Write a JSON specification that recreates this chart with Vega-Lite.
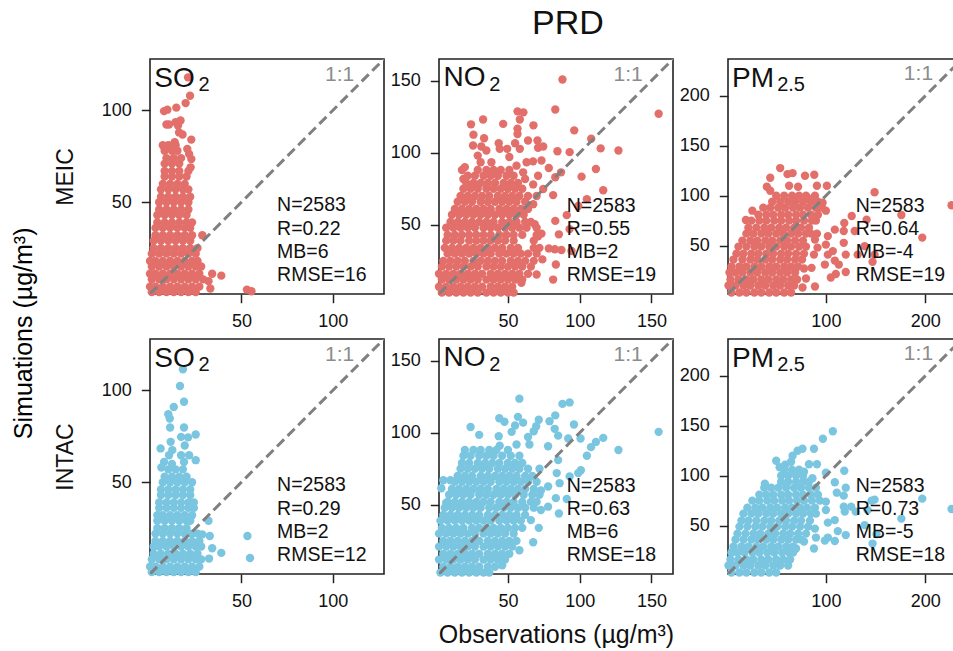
{"$schema":"https://vega.github.io/schema/vega-lite/v6.json","background":"white","padding":{"left":12,"top":6,"right":0,"bottom":0},"title":{"text":"Simuations (µg/m³)","orient":"left","anchor":"middle","fontSize":25,"fontWeight":"normal","font":"Liberation Sans","color":"black","offset":16,"dx":-6},"config":{"view":{"stroke":"#222222","strokeWidth":1.6},"font":"Liberation Sans","axis":{"grid":false,"domain":false,"tickSize":8.7,"tickWidth":1.5,"tickColor":"#222222","labelFont":"Liberation Sans","labelFontSize":18,"labelColor":"#111111","labelPadding":10,"titleFont":"Liberation Sans","titleFontWeight":"normal","titleColor":"#111111"}},"datasets":{"so2m":[{"x":20.8,"y":118},{"x":21.9,"y":108},{"x":19.5,"y":104},{"x":14.4,"y":101.5},{"x":9.5,"y":100.4},{"x":7.7,"y":99.6},{"x":16.7,"y":94.5},{"x":14,"y":93.6},{"x":9,"y":92.3},{"x":10.4,"y":92.3},{"x":15.3,"y":91.8},{"x":15.9,"y":88},{"x":17.8,"y":86.9},{"x":22.6,"y":84.1},{"x":13.5,"y":82.7},{"x":10.4,"y":80.8},{"x":20.4,"y":79},{"x":21.4,"y":76.3},{"x":22.6,"y":73.5},{"x":22.2,"y":69},{"x":34,"y":11},{"x":32,"y":7},{"x":33,"y":3},{"x":39,"y":10},{"x":28.6,"y":32},{"x":53,"y":2.4},{"x":55.5,"y":1.5},{"x":1,"y":1},{"x":5,"y":1},{"x":9,"y":1},{"x":13,"y":1},{"x":17,"y":1},{"x":21,"y":1},{"x":25,"y":1},{"x":0,"y":4},{"x":3,"y":4},{"x":7,"y":4},{"x":11,"y":4},{"x":15,"y":4},{"x":19,"y":4},{"x":23,"y":4},{"x":27,"y":4},{"x":1,"y":8},{"x":5,"y":8},{"x":9,"y":8},{"x":13,"y":8},{"x":17,"y":8},{"x":21,"y":8},{"x":25,"y":8},{"x":29,"y":8},{"x":0,"y":11},{"x":3,"y":11},{"x":7,"y":11},{"x":11,"y":11},{"x":15,"y":11},{"x":19,"y":11},{"x":23,"y":11},{"x":27,"y":11},{"x":1,"y":15},{"x":5,"y":15},{"x":9,"y":15},{"x":13,"y":15},{"x":17,"y":15},{"x":21,"y":15},{"x":25,"y":15},{"x":28,"y":15},{"x":0,"y":18},{"x":3,"y":18},{"x":7,"y":18},{"x":11,"y":18},{"x":15,"y":18},{"x":19,"y":18},{"x":23,"y":18},{"x":26,"y":18},{"x":1,"y":22},{"x":5,"y":22},{"x":9,"y":22},{"x":13,"y":22},{"x":17,"y":22},{"x":21,"y":22},{"x":25,"y":22},{"x":2,"y":25},{"x":6,"y":25},{"x":10,"y":25},{"x":14,"y":25},{"x":18,"y":25},{"x":22,"y":25},{"x":26,"y":25},{"x":2,"y":29},{"x":6,"y":29},{"x":10,"y":29},{"x":14,"y":29},{"x":18,"y":29},{"x":22,"y":29},{"x":3,"y":32},{"x":7,"y":32},{"x":11,"y":32},{"x":15,"y":32},{"x":19,"y":32},{"x":23,"y":32},{"x":3,"y":36},{"x":7,"y":36},{"x":11,"y":36},{"x":15,"y":36},{"x":19,"y":36},{"x":22,"y":36},{"x":4,"y":39},{"x":8,"y":39},{"x":12,"y":39},{"x":16,"y":39},{"x":20,"y":39},{"x":23,"y":39},{"x":4,"y":43},{"x":8,"y":43},{"x":12,"y":43},{"x":16,"y":43},{"x":20,"y":43},{"x":5,"y":46},{"x":9,"y":46},{"x":13,"y":46},{"x":17,"y":46},{"x":21,"y":46},{"x":5,"y":50},{"x":9,"y":50},{"x":13,"y":50},{"x":17,"y":50},{"x":21,"y":50},{"x":6,"y":53},{"x":10,"y":53},{"x":14,"y":53},{"x":18,"y":53},{"x":22,"y":53},{"x":6,"y":57},{"x":10,"y":57},{"x":14,"y":57},{"x":18,"y":57},{"x":21,"y":57},{"x":7,"y":60},{"x":11,"y":60},{"x":15,"y":60},{"x":19,"y":60},{"x":8,"y":64},{"x":12,"y":64},{"x":16,"y":64},{"x":20,"y":64},{"x":8,"y":67},{"x":12,"y":67},{"x":16,"y":67},{"x":21,"y":67},{"x":8,"y":71},{"x":12,"y":71},{"x":16,"y":71},{"x":9,"y":74},{"x":13,"y":74},{"x":17,"y":74},{"x":8,"y":78},{"x":12,"y":78},{"x":15,"y":78},{"x":7,"y":81},{"x":10,"y":81},{"x":14,"y":81}],"so2i":[{"x":18,"y":111.5},{"x":16.4,"y":102.4},{"x":18.6,"y":93.8},{"x":13,"y":91},{"x":10,"y":87},{"x":10.8,"y":84.7},{"x":11,"y":79.8},{"x":18.6,"y":79.8},{"x":25,"y":76},{"x":17,"y":74.7},{"x":20.8,"y":74.4},{"x":19,"y":70},{"x":11.3,"y":72},{"x":5.8,"y":68.4},{"x":12.2,"y":67.5},{"x":10.4,"y":64.7},{"x":21.4,"y":64.7},{"x":17,"y":64.7},{"x":25,"y":62},{"x":18.6,"y":61},{"x":7.7,"y":61},{"x":6.2,"y":58},{"x":12,"y":60},{"x":32,"y":29},{"x":28.6,"y":21.6},{"x":32.7,"y":20.7},{"x":53.3,"y":20.7},{"x":54.7,"y":8.7},{"x":34,"y":14},{"x":39,"y":11.5},{"x":32.3,"y":8.4},{"x":1,"y":1},{"x":5,"y":1},{"x":9,"y":1},{"x":13,"y":1},{"x":17,"y":1},{"x":21,"y":1},{"x":25,"y":1},{"x":0,"y":4},{"x":3,"y":4},{"x":7,"y":4},{"x":11,"y":4},{"x":15,"y":4},{"x":19,"y":4},{"x":23,"y":4},{"x":27,"y":4},{"x":1,"y":8},{"x":5,"y":8},{"x":9,"y":8},{"x":13,"y":8},{"x":17,"y":8},{"x":21,"y":8},{"x":25,"y":8},{"x":28,"y":8},{"x":2,"y":11},{"x":6,"y":11},{"x":10,"y":11},{"x":14,"y":11},{"x":18,"y":11},{"x":22,"y":11},{"x":26,"y":11},{"x":2,"y":15},{"x":5,"y":15},{"x":9,"y":15},{"x":13,"y":15},{"x":17,"y":15},{"x":21,"y":15},{"x":25,"y":15},{"x":28,"y":15},{"x":3,"y":18},{"x":7,"y":18},{"x":11,"y":18},{"x":15,"y":18},{"x":19,"y":18},{"x":23,"y":18},{"x":27,"y":18},{"x":3,"y":22},{"x":7,"y":22},{"x":11,"y":22},{"x":15,"y":22},{"x":19,"y":22},{"x":23,"y":22},{"x":26,"y":22},{"x":4,"y":25},{"x":8,"y":25},{"x":12,"y":25},{"x":16,"y":25},{"x":20,"y":25},{"x":4,"y":29},{"x":8,"y":29},{"x":12,"y":29},{"x":16,"y":29},{"x":20,"y":29},{"x":22,"y":29},{"x":4,"y":32},{"x":7,"y":32},{"x":11,"y":32},{"x":15,"y":32},{"x":19,"y":32},{"x":23,"y":32},{"x":5,"y":36},{"x":9,"y":36},{"x":13,"y":36},{"x":17,"y":36},{"x":21,"y":36},{"x":24,"y":36},{"x":5,"y":39},{"x":9,"y":39},{"x":13,"y":39},{"x":17,"y":39},{"x":21,"y":39},{"x":24,"y":39},{"x":6,"y":43},{"x":10,"y":43},{"x":14,"y":43},{"x":18,"y":43},{"x":22,"y":43},{"x":6,"y":46},{"x":10,"y":46},{"x":14,"y":46},{"x":18,"y":46},{"x":22,"y":46},{"x":7,"y":50},{"x":11,"y":50},{"x":15,"y":50},{"x":19,"y":50},{"x":23,"y":50},{"x":8,"y":53},{"x":12,"y":53},{"x":16,"y":53},{"x":20,"y":53},{"x":10,"y":57},{"x":14,"y":57},{"x":18,"y":57}],"no2m":[{"x":88,"y":150.8},{"x":83,"y":130},{"x":155,"y":127},{"x":56.7,"y":128.7},{"x":60.8,"y":128},{"x":58.3,"y":123},{"x":32.7,"y":123},{"x":24.3,"y":119.7},{"x":46.7,"y":120},{"x":67.8,"y":119},{"x":96.2,"y":115.5},{"x":56.7,"y":116.7},{"x":56.7,"y":113},{"x":26,"y":112.5},{"x":33.4,"y":110},{"x":108,"y":109.7},{"x":64,"y":108.5},{"x":70.6,"y":108.5},{"x":55,"y":106.6},{"x":43.6,"y":106.6},{"x":25.7,"y":105},{"x":31.5,"y":104.3},{"x":74.6,"y":104.3},{"x":71,"y":103.4},{"x":114.6,"y":103},{"x":127,"y":101.5},{"x":84.5,"y":101},{"x":93,"y":100.4},{"x":58.3,"y":102.7},{"x":44.3,"y":102.7},{"x":35,"y":101.5},{"x":49.5,"y":102.7},{"x":29,"y":98},{"x":51,"y":97},{"x":38.5,"y":93.4},{"x":73.4,"y":94.6},{"x":67.5,"y":94},{"x":63,"y":93.4},{"x":31,"y":93.4},{"x":20,"y":90},{"x":18,"y":88},{"x":78.5,"y":89.4},{"x":111.3,"y":88.7},{"x":56,"y":91},{"x":87,"y":86.4},{"x":60.6,"y":86.4},{"x":71,"y":84},{"x":83,"y":83},{"x":101.3,"y":83.4},{"x":62,"y":81.8},{"x":19,"y":81.8},{"x":116.4,"y":74},{"x":81.5,"y":70.6},{"x":67.6,"y":78},{"x":74.6,"y":74.8},{"x":105,"y":67.8},{"x":67.6,"y":64.3},{"x":99,"y":63},{"x":91,"y":56.7},{"x":83,"y":52.7},{"x":93,"y":47},{"x":85.5,"y":43.4},{"x":78.5,"y":33.6},{"x":82.7,"y":33},{"x":87.3,"y":32.5},{"x":94.3,"y":31.8},{"x":74,"y":26},{"x":83.4,"y":22.5},{"x":81.5,"y":12},{"x":70,"y":15.5},{"x":59.4,"y":9.7},{"x":71,"y":42},{"x":68.7,"y":50.4},{"x":73.4,"y":43.9},{"x":4,"y":3},{"x":9,"y":3},{"x":14,"y":3},{"x":19,"y":3},{"x":24,"y":3},{"x":29,"y":3},{"x":35,"y":3},{"x":40,"y":3},{"x":45,"y":3},{"x":50,"y":3},{"x":54,"y":3},{"x":2,"y":7},{"x":7,"y":7},{"x":12,"y":7},{"x":17,"y":7},{"x":22,"y":7},{"x":27,"y":7},{"x":32,"y":7},{"x":38,"y":7},{"x":43,"y":7},{"x":48,"y":7},{"x":53,"y":7},{"x":4,"y":12},{"x":9,"y":12},{"x":14,"y":12},{"x":19,"y":12},{"x":24,"y":12},{"x":29,"y":12},{"x":35,"y":12},{"x":40,"y":12},{"x":45,"y":12},{"x":50,"y":12},{"x":55,"y":12},{"x":60,"y":12},{"x":2,"y":16},{"x":7,"y":16},{"x":12,"y":16},{"x":17,"y":16},{"x":22,"y":16},{"x":27,"y":16},{"x":32,"y":16},{"x":38,"y":16},{"x":43,"y":16},{"x":48,"y":16},{"x":53,"y":16},{"x":58,"y":16},{"x":64,"y":16},{"x":4,"y":21},{"x":9,"y":21},{"x":14,"y":21},{"x":19,"y":21},{"x":24,"y":21},{"x":29,"y":21},{"x":35,"y":21},{"x":40,"y":21},{"x":45,"y":21},{"x":50,"y":21},{"x":55,"y":21},{"x":60,"y":21},{"x":66,"y":21},{"x":5,"y":25},{"x":10,"y":25},{"x":15,"y":25},{"x":20,"y":25},{"x":26,"y":25},{"x":31,"y":25},{"x":36,"y":25},{"x":41,"y":25},{"x":46,"y":25},{"x":52,"y":25},{"x":57,"y":25},{"x":62,"y":25},{"x":68,"y":25},{"x":8,"y":30},{"x":13,"y":30},{"x":18,"y":30},{"x":23,"y":30},{"x":28,"y":30},{"x":33,"y":30},{"x":38,"y":30},{"x":44,"y":30},{"x":49,"y":30},{"x":54,"y":30},{"x":59,"y":30},{"x":64,"y":30},{"x":70,"y":30},{"x":6,"y":34},{"x":11,"y":34},{"x":16,"y":34},{"x":21,"y":34},{"x":26,"y":34},{"x":31,"y":34},{"x":36,"y":34},{"x":41,"y":34},{"x":46,"y":34},{"x":52,"y":34},{"x":57,"y":34},{"x":68,"y":34},{"x":72,"y":34},{"x":7,"y":39},{"x":12,"y":39},{"x":17,"y":39},{"x":23,"y":39},{"x":28,"y":39},{"x":33,"y":39},{"x":38,"y":39},{"x":43,"y":39},{"x":48,"y":39},{"x":54,"y":39},{"x":68,"y":39},{"x":8,"y":43},{"x":13,"y":43},{"x":18,"y":43},{"x":23,"y":43},{"x":28,"y":43},{"x":33,"y":43},{"x":38,"y":43},{"x":44,"y":43},{"x":49,"y":43},{"x":54,"y":43},{"x":60,"y":43},{"x":70,"y":43},{"x":7,"y":48},{"x":12,"y":48},{"x":17,"y":48},{"x":22,"y":48},{"x":27,"y":48},{"x":33,"y":48},{"x":38,"y":48},{"x":43,"y":48},{"x":48,"y":48},{"x":53,"y":48},{"x":58,"y":48},{"x":63,"y":48},{"x":70,"y":48},{"x":10,"y":52},{"x":15,"y":52},{"x":20,"y":52},{"x":25,"y":52},{"x":30,"y":52},{"x":35,"y":52},{"x":40,"y":52},{"x":46,"y":52},{"x":51,"y":52},{"x":56,"y":52},{"x":62,"y":52},{"x":66,"y":52},{"x":11,"y":57},{"x":16,"y":57},{"x":21,"y":57},{"x":26,"y":57},{"x":31,"y":57},{"x":36,"y":57},{"x":41,"y":57},{"x":46,"y":57},{"x":51,"y":57},{"x":56,"y":57},{"x":61,"y":57},{"x":13,"y":61},{"x":18,"y":61},{"x":23,"y":61},{"x":28,"y":61},{"x":33,"y":61},{"x":38,"y":61},{"x":44,"y":61},{"x":49,"y":61},{"x":54,"y":61},{"x":59,"y":61},{"x":64,"y":61},{"x":15,"y":66},{"x":20,"y":66},{"x":25,"y":66},{"x":31,"y":66},{"x":36,"y":66},{"x":41,"y":66},{"x":46,"y":66},{"x":51,"y":66},{"x":56,"y":66},{"x":62,"y":66},{"x":17,"y":70},{"x":22,"y":70},{"x":27,"y":70},{"x":32,"y":70},{"x":37,"y":70},{"x":43,"y":70},{"x":48,"y":70},{"x":53,"y":70},{"x":58,"y":70},{"x":64,"y":70},{"x":70,"y":70},{"x":19,"y":75},{"x":24,"y":75},{"x":29,"y":75},{"x":35,"y":75},{"x":40,"y":75},{"x":45,"y":75},{"x":50,"y":75},{"x":55,"y":75},{"x":60,"y":75},{"x":21,"y":79},{"x":26,"y":79},{"x":31,"y":79},{"x":36,"y":79},{"x":41,"y":79},{"x":47,"y":79},{"x":52,"y":79},{"x":57,"y":79},{"x":22,"y":84},{"x":27,"y":84},{"x":33,"y":84},{"x":38,"y":84},{"x":43,"y":84},{"x":49,"y":84},{"x":54,"y":84},{"x":29,"y":88},{"x":35,"y":88},{"x":40,"y":88},{"x":45,"y":88},{"x":51,"y":88}],"no2i":[{"x":155,"y":100.6},{"x":58,"y":123.6},{"x":93,"y":121},{"x":88,"y":120},{"x":83,"y":112},{"x":57,"y":111},{"x":71.5,"y":109},{"x":44,"y":110},{"x":47.6,"y":107.6},{"x":79,"y":108},{"x":96,"y":105.7},{"x":24,"y":104},{"x":60.6,"y":107},{"x":55,"y":105},{"x":69.7,"y":104.5},{"x":82.6,"y":102.7},{"x":85,"y":98},{"x":52.6,"y":100.6},{"x":68,"y":101},{"x":43.6,"y":97.6},{"x":30,"y":98.5},{"x":64,"y":97},{"x":92,"y":96},{"x":100.6,"y":96},{"x":116.4,"y":96.4},{"x":111.3,"y":93.6},{"x":107.9,"y":90},{"x":127,"y":88},{"x":105,"y":84},{"x":65,"y":91.8},{"x":78,"y":90.6},{"x":44.3,"y":91},{"x":56,"y":91.8},{"x":85,"y":81},{"x":100.8,"y":74},{"x":99,"y":72},{"x":93,"y":69.7},{"x":84,"y":72},{"x":86,"y":65},{"x":83.4,"y":54.6},{"x":91,"y":54},{"x":78,"y":48.7},{"x":85.5,"y":44},{"x":71.5,"y":34},{"x":67.6,"y":24},{"x":58,"y":18.5},{"x":46,"y":8},{"x":5,"y":67},{"x":10,"y":67},{"x":3.6,"y":61.5},{"x":7,"y":51.5},{"x":73,"y":46.4},{"x":66,"y":39.4},{"x":78,"y":62.7},{"x":73,"y":60},{"x":3,"y":3},{"x":8,"y":3},{"x":13,"y":3},{"x":18,"y":3},{"x":23,"y":3},{"x":28,"y":3},{"x":33,"y":3},{"x":37,"y":3},{"x":5,"y":7},{"x":10,"y":7},{"x":15,"y":7},{"x":20,"y":7},{"x":25,"y":7},{"x":30,"y":7},{"x":36,"y":7},{"x":41,"y":7},{"x":2,"y":12},{"x":7,"y":12},{"x":12,"y":12},{"x":17,"y":12},{"x":22,"y":12},{"x":27,"y":12},{"x":33,"y":12},{"x":38,"y":12},{"x":43,"y":12},{"x":48,"y":12},{"x":5,"y":16},{"x":10,"y":16},{"x":15,"y":16},{"x":20,"y":16},{"x":25,"y":16},{"x":30,"y":16},{"x":36,"y":16},{"x":41,"y":16},{"x":46,"y":16},{"x":51,"y":16},{"x":2,"y":21},{"x":7,"y":21},{"x":12,"y":21},{"x":17,"y":21},{"x":22,"y":21},{"x":27,"y":21},{"x":33,"y":21},{"x":38,"y":21},{"x":43,"y":21},{"x":48,"y":21},{"x":53,"y":21},{"x":5,"y":25},{"x":10,"y":25},{"x":15,"y":25},{"x":20,"y":25},{"x":25,"y":25},{"x":30,"y":25},{"x":36,"y":25},{"x":41,"y":25},{"x":46,"y":25},{"x":51,"y":25},{"x":56,"y":25},{"x":2,"y":30},{"x":7,"y":30},{"x":12,"y":30},{"x":17,"y":30},{"x":22,"y":30},{"x":27,"y":30},{"x":33,"y":30},{"x":38,"y":30},{"x":43,"y":30},{"x":48,"y":30},{"x":54,"y":30},{"x":4,"y":34},{"x":9,"y":34},{"x":14,"y":34},{"x":19,"y":34},{"x":25,"y":34},{"x":30,"y":34},{"x":35,"y":34},{"x":40,"y":34},{"x":45,"y":34},{"x":50,"y":34},{"x":55,"y":34},{"x":60,"y":34},{"x":3,"y":39},{"x":8,"y":39},{"x":13,"y":39},{"x":18,"y":39},{"x":23,"y":39},{"x":28,"y":39},{"x":33,"y":39},{"x":38,"y":39},{"x":44,"y":39},{"x":49,"y":39},{"x":54,"y":39},{"x":59,"y":39},{"x":5,"y":43},{"x":10,"y":43},{"x":15,"y":43},{"x":20,"y":43},{"x":25,"y":43},{"x":30,"y":43},{"x":36,"y":43},{"x":41,"y":43},{"x":46,"y":43},{"x":51,"y":43},{"x":56,"y":43},{"x":62,"y":43},{"x":6,"y":48},{"x":11,"y":48},{"x":16,"y":48},{"x":21,"y":48},{"x":26,"y":48},{"x":31,"y":48},{"x":37,"y":48},{"x":42,"y":48},{"x":47,"y":48},{"x":52,"y":48},{"x":57,"y":48},{"x":62,"y":48},{"x":68,"y":48},{"x":8,"y":52},{"x":13,"y":52},{"x":18,"y":52},{"x":23,"y":52},{"x":28,"y":52},{"x":33,"y":52},{"x":38,"y":52},{"x":44,"y":52},{"x":49,"y":52},{"x":54,"y":52},{"x":60,"y":52},{"x":66,"y":52},{"x":70,"y":52},{"x":9,"y":57},{"x":14,"y":57},{"x":19,"y":57},{"x":24,"y":57},{"x":30,"y":57},{"x":35,"y":57},{"x":40,"y":57},{"x":45,"y":57},{"x":50,"y":57},{"x":55,"y":57},{"x":61,"y":57},{"x":67,"y":57},{"x":72,"y":57},{"x":11,"y":61},{"x":16,"y":61},{"x":21,"y":61},{"x":26,"y":61},{"x":31,"y":61},{"x":36,"y":61},{"x":42,"y":61},{"x":47,"y":61},{"x":52,"y":61},{"x":57,"y":61},{"x":62,"y":61},{"x":68,"y":61},{"x":13,"y":66},{"x":18,"y":66},{"x":23,"y":66},{"x":28,"y":66},{"x":33,"y":66},{"x":38,"y":66},{"x":44,"y":66},{"x":49,"y":66},{"x":54,"y":66},{"x":59,"y":66},{"x":64,"y":66},{"x":70,"y":66},{"x":15,"y":70},{"x":20,"y":70},{"x":25,"y":70},{"x":31,"y":70},{"x":36,"y":70},{"x":41,"y":70},{"x":46,"y":70},{"x":51,"y":70},{"x":56,"y":70},{"x":62,"y":70},{"x":67,"y":70},{"x":17,"y":75},{"x":22,"y":75},{"x":27,"y":75},{"x":32,"y":75},{"x":37,"y":75},{"x":43,"y":75},{"x":48,"y":75},{"x":53,"y":75},{"x":58,"y":75},{"x":64,"y":75},{"x":72,"y":75},{"x":18,"y":79},{"x":23,"y":79},{"x":29,"y":79},{"x":34,"y":79},{"x":39,"y":79},{"x":44,"y":79},{"x":50,"y":79},{"x":55,"y":79},{"x":60,"y":79},{"x":19,"y":84},{"x":24,"y":84},{"x":30,"y":84},{"x":35,"y":84},{"x":40,"y":84},{"x":46,"y":84},{"x":52,"y":84},{"x":58,"y":84},{"x":20,"y":88},{"x":26,"y":88},{"x":31,"y":88},{"x":37,"y":88},{"x":42,"y":88},{"x":50,"y":88}],"pmm":[{"x":54,"y":127.7},{"x":44,"y":118},{"x":61.4,"y":121.6},{"x":66.5,"y":122.6},{"x":79,"y":120},{"x":88.3,"y":121},{"x":91,"y":110},{"x":101,"y":110},{"x":63,"y":110},{"x":72,"y":109},{"x":40.6,"y":109},{"x":44,"y":105},{"x":149,"y":103.5},{"x":226.5,"y":90.4},{"x":89,"y":100},{"x":81.5,"y":98},{"x":96.7,"y":93},{"x":100,"y":85},{"x":26,"y":85},{"x":19.5,"y":75.7},{"x":176,"y":80.7},{"x":126,"y":79.7},{"x":141,"y":76},{"x":118.5,"y":72.6},{"x":197,"y":58},{"x":109,"y":66},{"x":118,"y":64.6},{"x":129,"y":64.6},{"x":139,"y":49.5},{"x":132,"y":41},{"x":147,"y":33.7},{"x":149,"y":41},{"x":120,"y":41},{"x":118,"y":52.8},{"x":102,"y":59.5},{"x":100,"y":51},{"x":107,"y":44.5},{"x":102,"y":41},{"x":91,"y":62},{"x":89,"y":56},{"x":91.6,"y":48},{"x":88,"y":41},{"x":109,"y":35},{"x":113,"y":31},{"x":99,"y":31},{"x":120,"y":23.6},{"x":110,"y":21.6},{"x":105,"y":18},{"x":85.6,"y":27.7},{"x":78,"y":27},{"x":80,"y":17},{"x":89,"y":9},{"x":76.5,"y":8},{"x":5,"y":3},{"x":13,"y":3},{"x":20,"y":3},{"x":28,"y":3},{"x":35,"y":3},{"x":43,"y":3},{"x":50,"y":3},{"x":58,"y":3},{"x":65,"y":3},{"x":2,"y":10},{"x":9,"y":10},{"x":17,"y":10},{"x":24,"y":10},{"x":32,"y":10},{"x":39,"y":10},{"x":47,"y":10},{"x":54,"y":10},{"x":62,"y":10},{"x":68,"y":10},{"x":4,"y":16},{"x":12,"y":16},{"x":20,"y":16},{"x":27,"y":16},{"x":35,"y":16},{"x":42,"y":16},{"x":50,"y":16},{"x":57,"y":16},{"x":65,"y":16},{"x":71,"y":16},{"x":3,"y":23},{"x":9,"y":23},{"x":16,"y":23},{"x":24,"y":23},{"x":31,"y":23},{"x":39,"y":23},{"x":46,"y":23},{"x":54,"y":23},{"x":61,"y":23},{"x":69,"y":23},{"x":5,"y":29},{"x":13,"y":29},{"x":20,"y":29},{"x":28,"y":29},{"x":35,"y":29},{"x":43,"y":29},{"x":50,"y":29},{"x":58,"y":29},{"x":65,"y":29},{"x":72,"y":29},{"x":7,"y":36},{"x":16,"y":36},{"x":24,"y":36},{"x":31,"y":36},{"x":39,"y":36},{"x":46,"y":36},{"x":54,"y":36},{"x":61,"y":36},{"x":69,"y":36},{"x":76,"y":36},{"x":10,"y":42},{"x":17,"y":42},{"x":25,"y":42},{"x":32,"y":42},{"x":40,"y":42},{"x":47,"y":42},{"x":55,"y":42},{"x":62,"y":42},{"x":70,"y":42},{"x":78,"y":42},{"x":12,"y":49},{"x":20,"y":49},{"x":28,"y":49},{"x":35,"y":49},{"x":43,"y":49},{"x":50,"y":49},{"x":58,"y":49},{"x":65,"y":49},{"x":73,"y":49},{"x":80,"y":49},{"x":16,"y":55},{"x":24,"y":55},{"x":31,"y":55},{"x":39,"y":55},{"x":46,"y":55},{"x":54,"y":55},{"x":61,"y":55},{"x":69,"y":55},{"x":77,"y":55},{"x":20,"y":62},{"x":27,"y":62},{"x":35,"y":62},{"x":42,"y":62},{"x":50,"y":62},{"x":57,"y":62},{"x":65,"y":62},{"x":72,"y":62},{"x":80,"y":62},{"x":85,"y":62},{"x":22,"y":68},{"x":30,"y":68},{"x":38,"y":68},{"x":45,"y":68},{"x":53,"y":68},{"x":60,"y":68},{"x":68,"y":68},{"x":75,"y":68},{"x":83,"y":68},{"x":25,"y":75},{"x":33,"y":75},{"x":40,"y":75},{"x":48,"y":75},{"x":55,"y":75},{"x":63,"y":75},{"x":70,"y":75},{"x":78,"y":75},{"x":86,"y":75},{"x":90,"y":75},{"x":32,"y":81},{"x":40,"y":81},{"x":47,"y":81},{"x":55,"y":81},{"x":62,"y":81},{"x":70,"y":81},{"x":77,"y":81},{"x":85,"y":81},{"x":92,"y":81},{"x":37,"y":88},{"x":44,"y":88},{"x":52,"y":88},{"x":59,"y":88},{"x":67,"y":88},{"x":74,"y":88},{"x":82,"y":88},{"x":90,"y":88},{"x":96,"y":88},{"x":46,"y":94},{"x":54,"y":94},{"x":62,"y":94},{"x":69,"y":94},{"x":77,"y":94},{"x":85,"y":94},{"x":92,"y":94},{"x":50,"y":100},{"x":58,"y":100},{"x":66,"y":100},{"x":73,"y":100},{"x":80,"y":100}],"pmi":[{"x":107,"y":144.5},{"x":97,"y":137},{"x":88,"y":127},{"x":76.5,"y":127},{"x":71.5,"y":125},{"x":66.5,"y":120},{"x":50,"y":115},{"x":65,"y":114},{"x":83,"y":111.5},{"x":91,"y":111.5},{"x":59,"y":111},{"x":53.5,"y":108.5},{"x":118.5,"y":105},{"x":100,"y":103},{"x":78,"y":104},{"x":86.5,"y":97.5},{"x":109,"y":93.5},{"x":120,"y":88},{"x":38.6,"y":92},{"x":111,"y":83},{"x":118,"y":80},{"x":197,"y":77},{"x":149,"y":76},{"x":146,"y":75},{"x":226.5,"y":66.6},{"x":118,"y":69},{"x":125.5,"y":69},{"x":119,"y":64},{"x":130,"y":64},{"x":142,"y":65.5},{"x":176,"y":57},{"x":139,"y":50.5},{"x":109,"y":55.5},{"x":102,"y":53},{"x":112,"y":44.5},{"x":120,"y":40.5},{"x":151,"y":41.4},{"x":147,"y":32},{"x":109,"y":34.6},{"x":102,"y":38},{"x":99,"y":35},{"x":90,"y":38},{"x":89,"y":47},{"x":88,"y":27},{"x":78,"y":34},{"x":70,"y":27},{"x":100,"y":65.6},{"x":100,"y":74},{"x":5,"y":3},{"x":13,"y":3},{"x":20,"y":3},{"x":28,"y":3},{"x":35,"y":3},{"x":43,"y":3},{"x":50,"y":3},{"x":2,"y":10},{"x":9,"y":10},{"x":17,"y":10},{"x":24,"y":10},{"x":32,"y":10},{"x":39,"y":10},{"x":47,"y":10},{"x":54,"y":10},{"x":62,"y":10},{"x":4,"y":16},{"x":12,"y":16},{"x":20,"y":16},{"x":27,"y":16},{"x":35,"y":16},{"x":42,"y":16},{"x":50,"y":16},{"x":57,"y":16},{"x":64,"y":16},{"x":5,"y":23},{"x":11,"y":23},{"x":18,"y":23},{"x":26,"y":23},{"x":33,"y":23},{"x":41,"y":23},{"x":48,"y":23},{"x":56,"y":23},{"x":63,"y":23},{"x":67,"y":23},{"x":7,"y":29},{"x":15,"y":29},{"x":22,"y":29},{"x":30,"y":29},{"x":37,"y":29},{"x":45,"y":29},{"x":52,"y":29},{"x":60,"y":29},{"x":67,"y":29},{"x":9,"y":36},{"x":17,"y":36},{"x":25,"y":36},{"x":32,"y":36},{"x":40,"y":36},{"x":47,"y":36},{"x":55,"y":36},{"x":62,"y":36},{"x":70,"y":36},{"x":75,"y":36},{"x":11,"y":42},{"x":19,"y":42},{"x":27,"y":42},{"x":34,"y":42},{"x":42,"y":42},{"x":49,"y":42},{"x":57,"y":42},{"x":64,"y":42},{"x":72,"y":42},{"x":80,"y":42},{"x":13,"y":49},{"x":21,"y":49},{"x":29,"y":49},{"x":36,"y":49},{"x":44,"y":49},{"x":51,"y":49},{"x":59,"y":49},{"x":66,"y":49},{"x":74,"y":49},{"x":82,"y":49},{"x":15,"y":55},{"x":22,"y":55},{"x":30,"y":55},{"x":38,"y":55},{"x":45,"y":55},{"x":53,"y":55},{"x":60,"y":55},{"x":68,"y":55},{"x":75,"y":55},{"x":84,"y":55},{"x":17,"y":62},{"x":25,"y":62},{"x":32,"y":62},{"x":40,"y":62},{"x":47,"y":62},{"x":55,"y":62},{"x":62,"y":62},{"x":70,"y":62},{"x":77,"y":62},{"x":85,"y":62},{"x":90,"y":62},{"x":21,"y":68},{"x":29,"y":68},{"x":36,"y":68},{"x":44,"y":68},{"x":51,"y":68},{"x":59,"y":68},{"x":66,"y":68},{"x":74,"y":68},{"x":81,"y":68},{"x":89,"y":68},{"x":26,"y":75},{"x":33,"y":75},{"x":41,"y":75},{"x":48,"y":75},{"x":56,"y":75},{"x":63,"y":75},{"x":71,"y":75},{"x":78,"y":75},{"x":86,"y":75},{"x":94,"y":75},{"x":33,"y":81},{"x":40,"y":81},{"x":47,"y":81},{"x":55,"y":81},{"x":62,"y":81},{"x":70,"y":81},{"x":77,"y":81},{"x":85,"y":81},{"x":92,"y":81},{"x":38,"y":88},{"x":45,"y":88},{"x":52,"y":88},{"x":60,"y":88},{"x":68,"y":88},{"x":75,"y":88},{"x":83,"y":88},{"x":90,"y":88},{"x":55,"y":94},{"x":62,"y":94},{"x":70,"y":94},{"x":77,"y":94},{"x":83,"y":94},{"x":55,"y":100},{"x":62,"y":100},{"x":70,"y":100},{"x":77,"y":100},{"x":58,"y":106},{"x":66,"y":106},{"x":73,"y":106}]},"columns":3,"spacing":{"row":45,"column":55},"bounds":"flush","concat":[{"width":234,"height":235,"data":{"name":"so2m"},"layer":[{"encoding":{"x":{"field":"x","type":"quantitative","scale":{"domain":[0,128],"nice":false,"zero":false},"axis":{"values":[50,100],"title":null}},"y":{"field":"y","type":"quantitative","scale":{"domain":[0,128],"nice":false,"zero":false},"axis":{"values":[50,100],"title":"MEIC","titleFontSize":23,"titlePadding":24}}},"layer":[{"mark":{"type":"circle","size":70,"opacity":1,"color":"#e36f6b"}},{"data":{"values":[{"x":0,"y":0},{"x":128,"y":128}]},"mark":{"type":"line","color":"#808080","strokeWidth":3,"strokeDash":[10,5],"clip":true}}]},{"data":{"values":[{"t":"SO"}]},"mark":{"type":"text","align":"left","baseline":"alphabetic","fontSize":28,"color":"#111111"},"encoding":{"x":{"datum":2.3},"y":{"datum":113},"text":{"field":"t"}}},{"data":{"values":[{"t":"2"}]},"mark":{"type":"text","align":"left","baseline":"alphabetic","fontSize":20,"color":"#111111"},"encoding":{"x":{"datum":26.5},"y":{"datum":110.8},"text":{"field":"t"}}},{"data":{"values":[{"t":"1:1"}]},"mark":{"type":"text","align":"left","baseline":"alphabetic","fontSize":21,"color":"#8c8c8c"},"encoding":{"x":{"datum":95.7},"y":{"datum":116},"text":{"field":"t"}}},{"data":{"values":[{}]},"mark":{"type":"text","align":"left","baseline":"alphabetic","fontSize":19.5,"lineHeight":23.2,"color":"#111111","text":["N=2583","R=0.22","MB=6","RMSE=16"]},"encoding":{"x":{"datum":69.5},"y":{"datum":45}}}]},{"width":234,"height":235,"title":{"text":"PRD","fontSize":34,"fontWeight":"normal","font":"Liberation Sans","color":"#111111","dx":12,"offset":18},"data":{"name":"no2m"},"layer":[{"encoding":{"x":{"field":"x","type":"quantitative","scale":{"domain":[2,165],"nice":false,"zero":false},"axis":{"values":[50,100,150],"title":null}},"y":{"field":"y","type":"quantitative","scale":{"domain":[2,165],"nice":false,"zero":false},"axis":{"values":[50,100,150],"title":null}}},"layer":[{"mark":{"type":"circle","size":70,"opacity":1,"color":"#e36f6b"}},{"data":{"values":[{"x":2,"y":2},{"x":165,"y":165}]},"mark":{"type":"line","color":"#808080","strokeWidth":3,"strokeDash":[10,5],"clip":true}}]},{"data":{"values":[{"t":"NO"}]},"mark":{"type":"text","align":"left","baseline":"alphabetic","fontSize":28,"color":"#111111"},"encoding":{"x":{"datum":5.2},"y":{"datum":146},"text":{"field":"t"}}},{"data":{"values":[{"t":"2"}]},"mark":{"type":"text","align":"left","baseline":"alphabetic","fontSize":20,"color":"#111111"},"encoding":{"x":{"datum":37},"y":{"datum":143},"text":{"field":"t"}}},{"data":{"values":[{"t":"1:1"}]},"mark":{"type":"text","align":"left","baseline":"alphabetic","fontSize":21,"color":"#8c8c8c"},"encoding":{"x":{"datum":123.6},"y":{"datum":150},"text":{"field":"t"}}},{"data":{"values":[{}]},"mark":{"type":"text","align":"left","baseline":"alphabetic","fontSize":19.5,"lineHeight":23.2,"color":"#111111","text":["N=2583","R=0.55","MB=2","RMSE=19"]},"encoding":{"x":{"datum":91},"y":{"datum":59}}}]},{"width":234,"height":235,"data":{"name":"pmm"},"layer":[{"encoding":{"x":{"field":"x","type":"quantitative","scale":{"domain":[1.5,237],"nice":false,"zero":false},"axis":{"values":[100,200],"title":null}},"y":{"field":"y","type":"quantitative","scale":{"domain":[1.5,237],"nice":false,"zero":false},"axis":{"values":[50,100,150,200],"title":null}}},"layer":[{"mark":{"type":"circle","size":70,"opacity":1,"color":"#e36f6b"}},{"data":{"values":[{"x":1.5,"y":1.5},{"x":237,"y":237}]},"mark":{"type":"line","color":"#808080","strokeWidth":3,"strokeDash":[10,5],"clip":true}}]},{"data":{"values":[{"t":"PM"}]},"mark":{"type":"text","align":"left","baseline":"alphabetic","fontSize":28,"color":"#111111"},"encoding":{"x":{"datum":5.5},"y":{"datum":209},"text":{"field":"t"}}},{"data":{"values":[{"t":"2.5"}]},"mark":{"type":"text","align":"left","baseline":"alphabetic","fontSize":20,"color":"#111111"},"encoding":{"x":{"datum":51},"y":{"datum":205},"text":{"field":"t"}}},{"data":{"values":[{"t":"1:1"}]},"mark":{"type":"text","align":"left","baseline":"alphabetic","fontSize":21,"color":"#8c8c8c"},"encoding":{"x":{"datum":178.5},"y":{"datum":215.5},"text":{"field":"t"}}},{"data":{"values":[{}]},"mark":{"type":"text","align":"left","baseline":"alphabetic","fontSize":19.5,"lineHeight":23.2,"color":"#111111","text":["N=2583","R=0.64","MB=-4","RMSE=19"]},"encoding":{"x":{"datum":130},"y":{"datum":84}}}]},{"width":234,"height":235,"data":{"name":"so2i"},"layer":[{"encoding":{"x":{"field":"x","type":"quantitative","scale":{"domain":[0,128],"nice":false,"zero":false},"axis":{"values":[50,100],"title":null}},"y":{"field":"y","type":"quantitative","scale":{"domain":[0,128],"nice":false,"zero":false},"axis":{"values":[50,100],"title":"INTAC","titleFontSize":23,"titlePadding":24}}},"layer":[{"mark":{"type":"circle","size":70,"opacity":1,"color":"#7ac6e1"}},{"data":{"values":[{"x":0,"y":0},{"x":128,"y":128}]},"mark":{"type":"line","color":"#808080","strokeWidth":3,"strokeDash":[10,5],"clip":true}}]},{"data":{"values":[{"t":"SO"}]},"mark":{"type":"text","align":"left","baseline":"alphabetic","fontSize":28,"color":"#111111"},"encoding":{"x":{"datum":2.3},"y":{"datum":113},"text":{"field":"t"}}},{"data":{"values":[{"t":"2"}]},"mark":{"type":"text","align":"left","baseline":"alphabetic","fontSize":20,"color":"#111111"},"encoding":{"x":{"datum":26.5},"y":{"datum":110.8},"text":{"field":"t"}}},{"data":{"values":[{"t":"1:1"}]},"mark":{"type":"text","align":"left","baseline":"alphabetic","fontSize":21,"color":"#8c8c8c"},"encoding":{"x":{"datum":95.7},"y":{"datum":116},"text":{"field":"t"}}},{"data":{"values":[{}]},"mark":{"type":"text","align":"left","baseline":"alphabetic","fontSize":19.5,"lineHeight":23.2,"color":"#111111","text":["N=2583","R=0.29","MB=2","RMSE=12"]},"encoding":{"x":{"datum":69.5},"y":{"datum":45}}}]},{"width":234,"height":235,"data":{"name":"no2i"},"layer":[{"encoding":{"x":{"field":"x","type":"quantitative","scale":{"domain":[2,165],"nice":false,"zero":false},"axis":{"values":[50,100,150],"title":"Observations (µg/m³)","titleFontSize":25,"titlePadding":12}},"y":{"field":"y","type":"quantitative","scale":{"domain":[2,165],"nice":false,"zero":false},"axis":{"values":[50,100,150],"title":null}}},"layer":[{"mark":{"type":"circle","size":70,"opacity":1,"color":"#7ac6e1"}},{"data":{"values":[{"x":2,"y":2},{"x":165,"y":165}]},"mark":{"type":"line","color":"#808080","strokeWidth":3,"strokeDash":[10,5],"clip":true}}]},{"data":{"values":[{"t":"NO"}]},"mark":{"type":"text","align":"left","baseline":"alphabetic","fontSize":28,"color":"#111111"},"encoding":{"x":{"datum":5.2},"y":{"datum":146},"text":{"field":"t"}}},{"data":{"values":[{"t":"2"}]},"mark":{"type":"text","align":"left","baseline":"alphabetic","fontSize":20,"color":"#111111"},"encoding":{"x":{"datum":37},"y":{"datum":143},"text":{"field":"t"}}},{"data":{"values":[{"t":"1:1"}]},"mark":{"type":"text","align":"left","baseline":"alphabetic","fontSize":21,"color":"#8c8c8c"},"encoding":{"x":{"datum":123.6},"y":{"datum":150},"text":{"field":"t"}}},{"data":{"values":[{}]},"mark":{"type":"text","align":"left","baseline":"alphabetic","fontSize":19.5,"lineHeight":23.2,"color":"#111111","text":["N=2583","R=0.63","MB=6","RMSE=18"]},"encoding":{"x":{"datum":91},"y":{"datum":59}}}]},{"width":234,"height":235,"data":{"name":"pmi"},"layer":[{"encoding":{"x":{"field":"x","type":"quantitative","scale":{"domain":[1.5,237],"nice":false,"zero":false},"axis":{"values":[100,200],"title":null}},"y":{"field":"y","type":"quantitative","scale":{"domain":[1.5,237],"nice":false,"zero":false},"axis":{"values":[50,100,150,200],"title":null}}},"layer":[{"mark":{"type":"circle","size":70,"opacity":1,"color":"#7ac6e1"}},{"data":{"values":[{"x":1.5,"y":1.5},{"x":237,"y":237}]},"mark":{"type":"line","color":"#808080","strokeWidth":3,"strokeDash":[10,5],"clip":true}}]},{"data":{"values":[{"t":"PM"}]},"mark":{"type":"text","align":"left","baseline":"alphabetic","fontSize":28,"color":"#111111"},"encoding":{"x":{"datum":5.5},"y":{"datum":209},"text":{"field":"t"}}},{"data":{"values":[{"t":"2.5"}]},"mark":{"type":"text","align":"left","baseline":"alphabetic","fontSize":20,"color":"#111111"},"encoding":{"x":{"datum":51},"y":{"datum":205},"text":{"field":"t"}}},{"data":{"values":[{"t":"1:1"}]},"mark":{"type":"text","align":"left","baseline":"alphabetic","fontSize":21,"color":"#8c8c8c"},"encoding":{"x":{"datum":178.5},"y":{"datum":215.5},"text":{"field":"t"}}},{"data":{"values":[{}]},"mark":{"type":"text","align":"left","baseline":"alphabetic","fontSize":19.5,"lineHeight":23.2,"color":"#111111","text":["N=2583","R=0.73","MB=-5","RMSE=18"]},"encoding":{"x":{"datum":130},"y":{"datum":84}}}]}]}
